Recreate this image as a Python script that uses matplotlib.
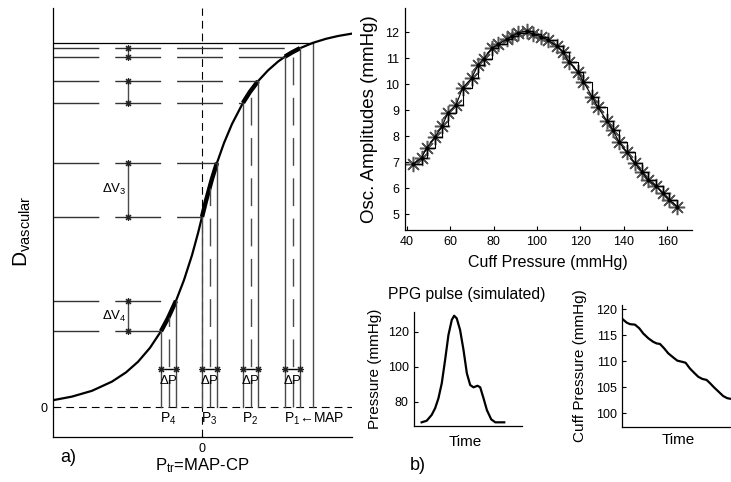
import matplotlib
matplotlib.use('Agg')
import matplotlib.pyplot as plt

plt.rcParams['font.family'] = ['Liberation Sans', 'DejaVu Sans']
plt.rcParams['mathtext.fontset'] = 'custom'
plt.rcParams['mathtext.rm'] = 'Liberation Sans'
plt.rcParams['mathtext.it'] = 'Liberation Sans:italic'
plt.rcParams['mathtext.bf'] = 'Liberation Sans:bold'

W, H = 731, 482

# ---------------- panel a) data ----------------
curve_x = [-74.5, -65, -55, -45, -38, -32, -26, -20.5, -17, -13, -9, -5, -2, 0, 2, 5, 7.5,
           11, 15, 20.5, 24, 28, 33, 38, 41.5, 45, 49, 55.5, 62, 68, 75]
curve_y = [3.4, 5.2, 8.1, 12.7, 17.3, 22.6, 29.6, 37.9, 44.4, 53.1, 63.5, 75.9, 86.9, 95.0,
           103.1, 114.1, 122.1, 132.0, 141.5, 152.1, 157.6, 162.9, 168.3, 172.7, 175.2,
           177.3, 179.4, 182.1, 184.1, 185.5, 186.7]
p_left = [-20.5, 0.0, 20.5, 41.5]
p_right = [-13.0, 7.5, 28.0, 49.0]
p_mid = [-16.75, 3.75, 24.25, 45.25]
h_left = [37.9, 95.0, 152.1, 175.2]
h_right = [53.1, 122.1, 162.9, 179.4]
h_mid = [44.9, 109.7, 157.9, 177.5]
p_labels = ['4', '3', '2', '1']
p_suffix = ['', '', '', '\u2190MAP']
dv_labels = ['4', '3', '', '']
map_x = 55.5
map_h = 182.1
dv_x = -37.0
dp_y = 19.0

# ---------------- panel top-right data ----------------
cuff_p = [42.6, 46.7, 49.1, 53.0, 56.3, 58.8, 62.7, 65.7, 69.8, 72.9, 75.3, 79.1, 82.2, 86.0,
          88.6, 91.4, 95.2, 98.3, 101.9, 105.2, 109.1, 111.9, 114.7, 118.9, 121.4, 125.4,
          128.0, 132.3, 135.1, 137.9, 141.4, 145.0, 148.5, 151.1, 155.1, 158.0, 161.1, 164.8]
osc_amp = [6.92, 7.17, 7.56, 7.98, 8.40, 8.90, 9.22, 9.87, 10.23, 10.76, 10.98, 11.38, 11.54,
           11.73, 11.86, 11.99, 12.04, 11.92, 11.83, 11.69, 11.47, 11.25, 10.87, 10.48, 10.10,
           9.53, 9.13, 8.59, 8.23, 7.77, 7.39, 6.98, 6.64, 6.33, 6.08, 5.81, 5.55, 5.29]

# ---------------- PPG pulse data ----------------
ppg_t = [0.068, 0.115, 0.161, 0.193, 0.224, 0.255, 0.286, 0.317, 0.348, 0.370, 0.394, 0.425,
         0.457, 0.488, 0.519, 0.550, 0.587, 0.612, 0.643, 0.674, 0.714, 0.752, 0.835]
ppg_p = [68.2, 69.1, 72.4, 76.2, 81.9, 90.5, 103.8, 118.1, 126.7, 129.1, 127.6, 121.0,
         109.5, 96.2, 89.5, 88.2, 89.1, 88.2, 81.9, 75.2, 69.9, 68.2, 68.2]

# ---------------- cuff pressure data ----------------
cuff_t = [0.0, 0.040, 0.071, 0.118, 0.158, 0.195, 0.241, 0.288, 0.319, 0.350, 0.387, 0.427,
          0.474, 0.511, 0.551, 0.588, 0.628, 0.666, 0.706, 0.743, 0.783, 0.814, 0.851, 0.892,
          0.938, 0.975, 1.0]
cuff_val = [118.1, 117.4, 117.1, 117.0, 116.3, 115.3, 114.4, 113.7, 113.4, 113.3, 112.5,
            111.5, 110.7, 110.1, 109.9, 109.7, 108.6, 107.8, 107.0, 106.6, 106.4, 105.8,
            105.0, 104.2, 103.3, 102.9, 102.8]

fig = plt.figure(figsize=(W / 100, H / 100), dpi=100)


def axpos(l, t, r, b):
    return [l / W, 1 - b / H, (r - l) / W, (b - t) / H]


def ftxt(px, py, s, **kw):
    kw.setdefault('ha', 'center')
    kw.setdefault('va', 'center')
    fig.text(px / W, 1 - py / H, s, **kw)


def style(ax):
    for s in ['top', 'right']:
        ax.spines[s].set_visible(False)
    for s in ['left', 'bottom']:
        ax.spines[s].set_linewidth(0.9)
    ax.tick_params(direction='in', length=3, width=0.8, labelsize=9, pad=4)


# ================= panel a =================
ax = fig.add_axes(axpos(53, 8, 352, 437))
style(ax)
ax.set_xlim(-74.5, 75)
ax.set_ylim(-15, 199.5)
ax.set_xticks([0])
ax.set_xticklabels(['0'])
ax.set_yticks([0])
ax.set_yticklabels(['0'])

long_dash = (0, (33, 11.5))
mid_dash = (0, (20, 9))
short_dash = (0, (7, 4.5))
gc = '#4a4a4a'

# reference dashed axes
ax.axhline(0, color='k', lw=0.8, ls=short_dash)
ax.axvline(0, color='k', lw=0.8, ls=short_dash)

# main curve
ax.plot(curve_x, curve_y, color='k', lw=1.6, solid_capstyle='round')

for i in range(4):
    # thick segment on curve
    seg_x = [x for x in curve_x if p_left[i] <= x <= p_right[i]]
    seg_y = [y for x, y in zip(curve_x, curve_y) if p_left[i] <= x <= p_right[i]]
    ax.plot(seg_x, seg_y, color='k', lw=3.2, solid_capstyle='butt')
    # verticals
    ax.plot([p_left[i], p_left[i]], [0, h_left[i]], color=gc, lw=1)
    ax.plot([p_right[i], p_right[i]], [0, h_right[i]], color=gc, lw=1)
    ax.plot([p_mid[i], p_mid[i]], [0, h_mid[i]], color=gc, lw=1, ls=mid_dash)
    # horizontals
    ax.plot([-74.5, p_left[i]], [h_left[i], h_left[i]], color='#333333', lw=1, ls=long_dash)
    ax.plot([-74.5, p_right[i]], [h_right[i], h_right[i]], color='#333333', lw=1, ls=long_dash)
    # delta V
    ax.plot([dv_x, dv_x], [h_left[i], h_right[i]], color=gc, lw=1,
            marker=(8, 2, 0), ms=5, mec='#222222', mew=0.8)
    if dv_labels[i]:
        ax.text(dv_x - 0.5, (h_left[i] + h_right[i]) / 2,
                r'$\mathregular{\Delta V_{%s}}$' % dv_labels[i],
                ha='right', va='center', fontsize=9.5)
    # delta P
    ax.plot([p_left[i], p_right[i]], [dp_y, dp_y], color='k', lw=1,
            marker=(8, 2, 0), ms=5, mec='#222222', mew=0.8)
    ax.text((p_left[i] + p_right[i]) / 2, dp_y - 2.5, r'$\mathregular{\Delta P}$',
            ha='center', va='top', fontsize=9.5)
    # P labels
    ax.text(p_left[i] - 0.3, -8.0, r'$\mathregular{P_{%s}}$' % p_labels[i] + p_suffix[i],
            ha='left', va='baseline', fontsize=10)

# MAP lines
ax.plot([map_x, map_x], [0, map_h], color=gc, lw=1)
ax.plot([-74.5, map_x], [map_h, map_h], color='k', lw=0.9)

ftxt(68, 457, 'a)', fontsize=13)
ftxt(202, 466, r'$\mathregular{P_{tr}}$=MAP-CP', fontsize=12)
ftxt(22, 231, r'$\mathregular{D_{vascular}}$', fontsize=15, rotation=90)

# ================= top-right panel =================
ax2 = fig.add_axes(axpos(405, 8, 692, 230))
style(ax2)
ax2.set_xlim(39.08, 171.5)
ax2.set_ylim(4.40, 12.935)
ax2.set_xticks([40, 60, 80, 100, 120, 140, 160])
ax2.set_yticks([5, 6, 7, 8, 9, 10, 11, 12])
ax2.plot(cuff_p, osc_amp, ls='none', marker=(8, 2, 0), ms=11, mec='#555555', mew=1.1)
ax2.plot(cuff_p, osc_amp, drawstyle='steps-post', color='k', lw=0.8)
ax2.plot(cuff_p, osc_amp, color='k', lw=0.8, marker='.', ms=4)
ftxt(548, 263, 'Cuff Pressure (mmHg)', fontsize=11.5)
ftxt(370, 119, 'Osc. Amplitudes (mmHg)', fontsize=13.5, rotation=90)

# ================= PPG pulse =================
ax3 = fig.add_axes(axpos(414.3, 311.7, 522, 426))
style(ax3)
ax3.set_xlim(0, 1)
ax3.set_ylim(66.1, 131.4)
ax3.set_xticks([])
ax3.set_yticks([80, 100, 120])
ax3.plot(ppg_t, ppg_p, color='k', lw=1.6)
ftxt(467, 295, 'PPG pulse (simulated)', fontsize=11.3)
ftxt(375, 369, 'Pressure (mmHg)', fontsize=11, rotation=90)
ftxt(465, 442, 'Time', fontsize=11)
ftxt(418, 465, 'b)', fontsize=13)

# ================= cuff pressure =================
ax4 = fig.add_axes(axpos(622.3, 305, 731, 426.7))
style(ax4)
ax4.set_xlim(0, 1.01)
ax4.set_ylim(97.43, 120.77)
ax4.set_xticks([])
ax4.set_yticks([100, 105, 110, 115, 120])
ax4.plot(cuff_t, cuff_val, color='k', lw=1.6)
ftxt(580, 366, 'Cuff Pressure (mmHg)', fontsize=11, rotation=90)
ftxt(678, 440, 'Time', fontsize=11)

fig.savefig('out.png', dpi=100)
